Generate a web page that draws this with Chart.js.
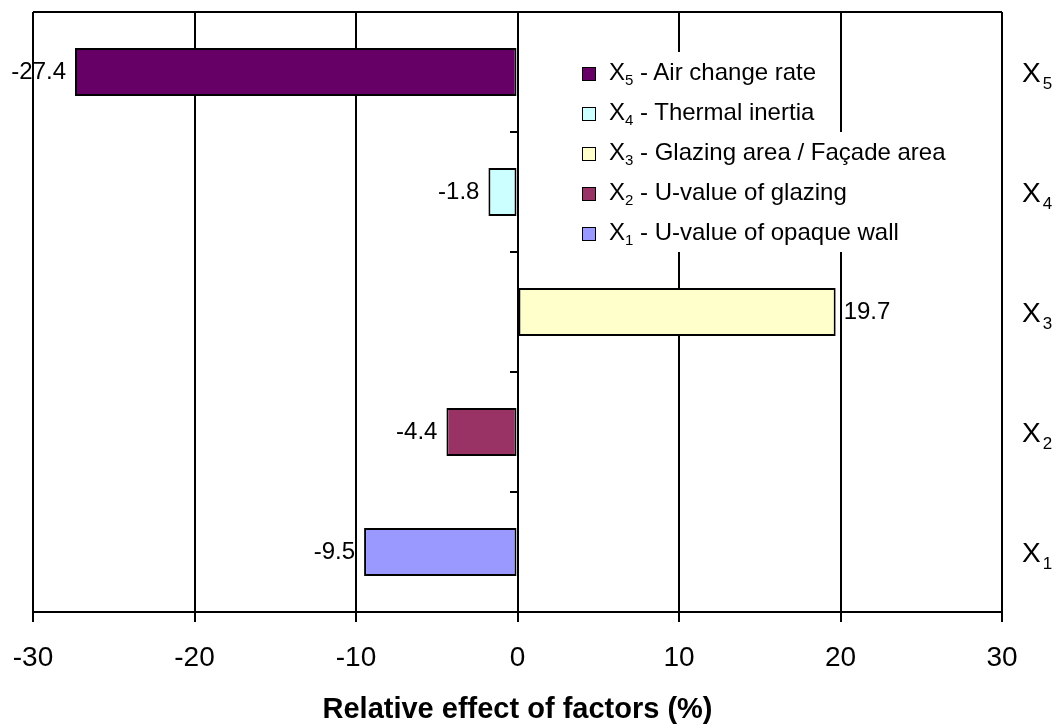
<!DOCTYPE html>
<html>
<head>
<meta charset="utf-8">
<script src="https://cdn.jsdelivr.net/npm/chart.js@4/dist/chart.umd.min.js"></script>
<style>
  body { margin: 0; background: #fff; }
  .wrap { position: relative; width: 1057px; height: 724px; }
  .legend { position: absolute; left: 574px; top: 52px; font-family: "Liberation Sans", Arial, sans-serif; font-size: 24px; color: #000; }
  .legend__item { display: block; width: fit-content; height: 40px; line-height: 40px; background: #fff; padding: 0 8px 0 8px; white-space: nowrap; }
  .legend__box { display: inline-block; width: 12px; height: 12px; border: 1.5px solid #000; margin-right: 13px; vertical-align: -1px; }
  .legend__item sub { font-size: 15px; vertical-align: -5px; line-height: 0; }
</style>
</head>
<body>
<div class="wrap">
  <canvas id="chart" width="1057" height="724"></canvas>
  <div class="legend"></div>
</div>
<script>
// factor numbers, top to bottom as drawn
const factors = ['5', '4', '3', '2', '1'];
const factorNames = ['Air change rate', 'Thermal inertia', 'Glazing area / Façade area', 'U-value of glazing', 'U-value of opaque wall'];
const effects = [-27.4, -1.8, 19.7, -4.4, -9.5];
const barColors = ['#660066', '#CCFFFF', '#FFFFCC', '#993366', '#9999FF'];
const xTicks = [-30, -20, -10, 0, 10, 20, 30];

const fontFamily = '"Liberation Sans", Arial, sans-serif';

// labels next to each bar end
const valueLabels = {
  id: 'valueLabels',
  afterDatasetsDraw(chart) {
    const ctx = chart.ctx;
    const meta = chart.getDatasetMeta(0);
    ctx.save();
    ctx.font = `24px ${fontFamily}`;
    ctx.fillStyle = '#000';
    ctx.textBaseline = 'middle';
    meta.data.forEach((bar, i) => {
      const v = effects[i];
      if (v < 0) {
        ctx.textAlign = 'right';
        ctx.fillText(v.toFixed(1), bar.x - 9, bar.y);
      } else {
        ctx.textAlign = 'left';
        ctx.fillText(v.toFixed(1), bar.x + 8, bar.y);
      }
    });
    ctx.restore();
  }
};

// top border, small ticks on the zero line and X labels with subscripts on the right
const frame = {
  id: 'frame',
  afterDraw(chart) {
    const ctx = chart.ctx;
    const area = chart.chartArea;
    const x = chart.scales.x;
    const y = chart.scales.y;
    const x0 = Math.round(x.getPixelForValue(0));
    ctx.save();
    ctx.strokeStyle = '#000';
    ctx.lineWidth = 2;
    ctx.beginPath();
    ctx.moveTo(area.left, area.top);
    ctx.lineTo(area.right, area.top);
    for (let i = 0; i <= factors.length; i++) {
      const py = Math.round(y.getPixelForValue(i - 0.5));
      ctx.moveTo(x0 - 8, py);
      ctx.lineTo(x0, py);
    }
    ctx.stroke();

    ctx.fillStyle = '#000';
    ctx.textAlign = 'left';
    ctx.textBaseline = 'alphabetic';
    factors.forEach((f, i) => {
      const py = y.getPixelForValue(i);
      const lx = area.right + 20;
      ctx.font = `28px ${fontFamily}`;
      ctx.fillText('X', lx, py + 10);
      const w = ctx.measureText('X').width;
      ctx.font = `17px ${fontFamily}`;
      ctx.fillText(f, lx + w + 2, py + 17);
    });
    ctx.restore();
  }
};

const renderLegend = function() {
  let html = '';
  factors.forEach((f, i) => {
    html += `<span class="legend__item"><span class="legend__box" style="background:${barColors[i]}"></span>X<sub>${f}</sub> - ${factorNames[i]}</span>`;
  });
  document.querySelector('.legend').innerHTML = html;
};

const ctx = document.getElementById('chart').getContext('2d');
const chart = new Chart(ctx, {
  type: 'bar',
  data: {
    labels: factors.map(f => 'X' + f),
    datasets: [{
      data: effects,
      backgroundColor: barColors,
      borderColor: '#000',
      borderWidth: 2,
      borderSkipped: false,
      barPercentage: 0.4,
      categoryPercentage: 1
    }]
  },
  options: {
    indexAxis: 'y',
    responsive: false,
    devicePixelRatio: 1,
    animation: false,
    layout: { padding: { left: 33, right: 55, top: 12, bottom: 0 } },
    plugins: {
      legend: { display: false },
      tooltip: { enabled: false }
    },
    scales: {
      x: {
        min: -30,
        max: 30,
        afterBuildTicks(scale) {
          scale.ticks = xTicks.map(v => ({ value: v }));
        },
        afterFit(scale) {
          scale.height = 112;
          scale.paddingLeft = 0;
          scale.paddingRight = 0;
        },
        grid: { color: '#000', lineWidth: 2, tickLength: 10, tickColor: '#000' },
        border: { display: true, color: '#000', width: 2 },
        ticks: {
          color: '#000',
          padding: 19,
          maxRotation: 0,
          font: { family: fontFamily, size: 28 }
        },
        title: {
          display: true,
          text: 'Relative effect of factors (%)',
          color: '#000',
          padding: { top: 0, bottom: 0 },
          font: { family: fontFamily, size: 29, weight: 'bold', lineHeight: 1 }
        }
      },
      y: {
        display: false
      }
    }
  },
  plugins: [valueLabels, frame]
});

renderLegend();
</script>
</body>
</html>
